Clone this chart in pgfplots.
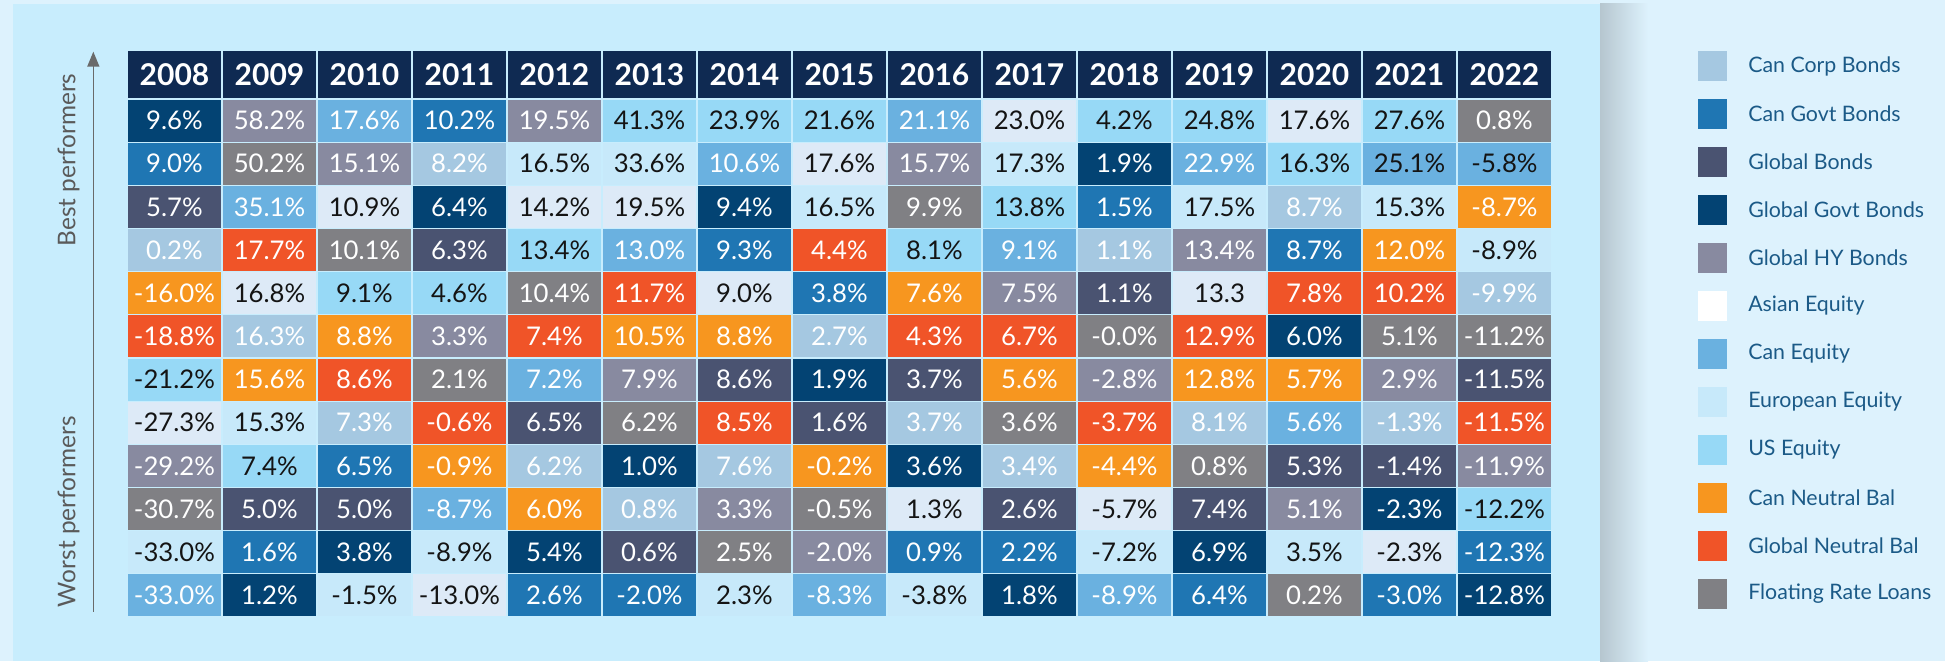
\documentclass[border=0pt]{standalone}
\usepackage{pgfplots}
\pgfplotsset{compat=1.18}
\usepackage{pgfplotstable}
\usetikzlibrary{arrows.meta}
\usepackage{fontspec}
\setmainfont{Lato}
\definecolor{cOut}{HTML}{DDF2FD}
\definecolor{cPanel}{HTML}{C8EDFD}
\definecolor{cShadow}{HTML}{B6C6CF}
\definecolor{cHead}{HTML}{0F2A52}
\definecolor{cCC}{HTML}{A5C8E1}
\definecolor{cCG}{HTML}{1F76B3}
\definecolor{cGB}{HTML}{4A5371}
\definecolor{cGG}{HTML}{034373}
\definecolor{cHY}{HTML}{888AA0}
\definecolor{cAE}{HTML}{DDEAF7}
\definecolor{cCE}{HTML}{6AB1E0}
\definecolor{cEE}{HTML}{C7E9FA}
\definecolor{cUS}{HTML}{97D9F6}
\definecolor{cCN}{HTML}{F7961F}
\definecolor{cGN}{HTML}{F05428}
\definecolor{cFR}{HTML}{808084}
\definecolor{cLeg}{HTML}{1B5A87}
\definecolor{cSide}{HTML}{5A5A5A}
\definecolor{cArrow}{HTML}{6A6A6A}
\definecolor{cInk}{HTML}{141414}
\pgfdeclareplotmark{cell}{\pgfpathrectangle{\pgfqpoint{-35.2pt}{-15.75pt}}{\pgfqpoint{70.4pt}{31.5pt}}\pgfusepathqfill}

% c = year column, r = rank (1 = best), k = asset class, lab = label, w = 1 for white text
\pgfplotstableread{
c r k lab w
0 1 GG 9.6\% 1
0 2 CG 9.0\% 1
0 3 GB 5.7\% 1
0 4 CC 0.2\% 1
0 5 CN -16.0\% 1
0 6 GN -18.8\% 1
0 7 US -21.2\% 0
0 8 AE -27.3\% 0
0 9 HY -29.2\% 1
0 10 FR -30.7\% 1
0 11 EE -33.0\% 0
0 12 CE -33.0\% 1
1 1 HY 58.2\% 1
1 2 FR 50.2\% 1
1 3 CE 35.1\% 1
1 4 GN 17.7\% 1
1 5 AE 16.8\% 0
1 6 CC 16.3\% 1
1 7 CN 15.6\% 1
1 8 EE 15.3\% 0
1 9 US 7.4\% 0
1 10 GB 5.0\% 1
1 11 CG 1.6\% 1
1 12 GG 1.2\% 1
2 1 CE 17.6\% 1
2 2 HY 15.1\% 1
2 3 AE 10.9\% 0
2 4 FR 10.1\% 1
2 5 US 9.1\% 0
2 6 CN 8.8\% 1
2 7 GN 8.6\% 1
2 8 CC 7.3\% 1
2 9 CG 6.5\% 1
2 10 GB 5.0\% 1
2 11 GG 3.8\% 1
2 12 EE -1.5\% 0
3 1 CG 10.2\% 1
3 2 CC 8.2\% 1
3 3 GG 6.4\% 1
3 4 GB 6.3\% 1
3 5 US 4.6\% 0
3 6 HY 3.3\% 1
3 7 FR 2.1\% 1
3 8 GN -0.6\% 1
3 9 CN -0.9\% 1
3 10 CE -8.7\% 1
3 11 EE -8.9\% 0
3 12 AE -13.0\% 0
4 1 HY 19.5\% 1
4 2 EE 16.5\% 0
4 3 AE 14.2\% 0
4 4 US 13.4\% 0
4 5 FR 10.4\% 1
4 6 GN 7.4\% 1
4 7 CE 7.2\% 1
4 8 GB 6.5\% 1
4 9 CC 6.2\% 1
4 10 CN 6.0\% 1
4 11 GG 5.4\% 1
4 12 CG 2.6\% 1
5 1 US 41.3\% 0
5 2 EE 33.6\% 0
5 3 AE 19.5\% 0
5 4 CE 13.0\% 1
5 5 GN 11.7\% 1
5 6 CN 10.5\% 1
5 7 HY 7.9\% 1
5 8 FR 6.2\% 1
5 9 GG 1.0\% 1
5 10 CC 0.8\% 1
5 11 GB 0.6\% 1
5 12 CG -2.0\% 1
6 1 US 23.9\% 0
6 2 CE 10.6\% 1
6 3 GG 9.4\% 1
6 4 CG 9.3\% 1
6 5 AE 9.0\% 0
6 6 CN 8.8\% 1
6 7 GB 8.6\% 1
6 8 GN 8.5\% 1
6 9 CC 7.6\% 1
6 10 HY 3.3\% 1
6 11 FR 2.5\% 1
6 12 EE 2.3\% 0
7 1 US 21.6\% 0
7 2 AE 17.6\% 0
7 3 EE 16.5\% 0
7 4 GN 4.4\% 1
7 5 CG 3.8\% 1
7 6 CC 2.7\% 1
7 7 GG 1.9\% 1
7 8 GB 1.6\% 1
7 9 CN -0.2\% 1
7 10 FR -0.5\% 1
7 11 HY -2.0\% 1
7 12 CE -8.3\% 1
8 1 CE 21.1\% 1
8 2 HY 15.7\% 1
8 3 FR 9.9\% 1
8 4 US 8.1\% 0
8 5 CN 7.6\% 1
8 6 GN 4.3\% 1
8 7 GB 3.7\% 1
8 8 CC 3.7\% 1
8 9 GG 3.6\% 1
8 10 AE 1.3\% 0
8 11 CG 0.9\% 1
8 12 EE -3.8\% 0
9 1 AE 23.0\% 0
9 2 EE 17.3\% 0
9 3 US 13.8\% 0
9 4 CE 9.1\% 1
9 5 HY 7.5\% 1
9 6 GN 6.7\% 1
9 7 CN 5.6\% 1
9 8 FR 3.6\% 1
9 9 CC 3.4\% 1
9 10 GB 2.6\% 1
9 11 CG 2.2\% 1
9 12 GG 1.8\% 1
10 1 US 4.2\% 0
10 2 GG 1.9\% 1
10 3 CG 1.5\% 1
10 4 CC 1.1\% 1
10 5 GB 1.1\% 1
10 6 FR -0.0\% 1
10 7 HY -2.8\% 1
10 8 GN -3.7\% 1
10 9 CN -4.4\% 1
10 10 AE -5.7\% 0
10 11 EE -7.2\% 0
10 12 CE -8.9\% 1
11 1 US 24.8\% 0
11 2 CE 22.9\% 1
11 3 EE 17.5\% 0
11 4 HY 13.4\% 1
11 5 AE 13.3 0
11 6 GN 12.9\% 1
11 7 CN 12.8\% 1
11 8 CC 8.1\% 1
11 9 FR 0.8\% 1
11 10 GB 7.4\% 1
11 11 GG 6.9\% 1
11 12 CG 6.4\% 1
12 1 AE 17.6\% 0
12 2 US 16.3\% 0
12 3 CC 8.7\% 1
12 4 CG 8.7\% 1
12 5 GN 7.8\% 1
12 6 GG 6.0\% 1
12 7 CN 5.7\% 1
12 8 CE 5.6\% 1
12 9 GB 5.3\% 1
12 10 HY 5.1\% 1
12 11 EE 3.5\% 0
12 12 FR 0.2\% 1
13 1 US 27.6\% 0
13 2 CE 25.1\% 0
13 3 EE 15.3\% 0
13 4 CN 12.0\% 1
13 5 GN 10.2\% 1
13 6 FR 5.1\% 1
13 7 HY 2.9\% 1
13 8 CC -1.3\% 1
13 9 GB -1.4\% 1
13 10 GG -2.3\% 1
13 11 AE -2.3\% 0
13 12 CG -3.0\% 1
14 1 FR 0.8\% 1
14 2 CE -5.8\% 0
14 3 CN -8.7\% 1
14 4 EE -8.9\% 0
14 5 CC -9.9\% 1
14 6 FR -11.2\% 1
14 7 GB -11.5\% 1
14 8 GN -11.5\% 1
14 9 HY -11.9\% 1
14 10 US -12.2\% 0
14 11 CG -12.3\% 1
14 12 GG -12.8\% 1
}\cells

\begin{document}
\begin{tikzpicture}
% backgrounds
\fill[cOut] (0,0) rectangle (1458.75pt,495.75pt);
\shade[left color=cShadow, right color=cOut] (1200pt,0) rectangle (1236pt,492.75pt);
\fill[cPanel] (9.75pt,0) rectangle (1200pt,492.75pt);

\begin{axis}[
  at={(95.25pt,33pt)}, anchor=south west,
  scale only axis, width=1068.75pt, height=388.5pt,
  xmin=-0.5, xmax=14.5, ymin=0.5, ymax=12.5,
  clip=false,
  axis line style={draw=none},
  major tick length=0pt,
  ytick=\empty,
  xtick={0,...,14},
  xticklabels={2008,2009,2010,2011,2012,2013,2014,2015,2016,2017,2018,2019,2020,2021,2022},
  xticklabel pos=upper,
  xticklabel style={fill=cHead, text=white, minimum width=70.4pt, minimum height=35.25pt,
    inner sep=0pt, anchor=south, yshift=0.8pt,
    font=\bfseries\fontsize{22.5}{24}\selectfont},
  unbounded coords=discard,
]
% coloured cells
\addplot[scatter, only marks,
  point meta=explicit symbolic,
  scatter/classes={
    CC={mark=cell,cCC}, CG={mark=cell,cCG}, GB={mark=cell,cGB}, GG={mark=cell,cGG},
    HY={mark=cell,cHY}, AE={mark=cell,cAE}, CE={mark=cell,cCE}, EE={mark=cell,cEE},
    US={mark=cell,cUS}, CN={mark=cell,cCN}, GN={mark=cell,cGN}, FR={mark=cell,cFR}},
] table[x=c, y expr=13-\thisrow{r}, meta=k] {\cells};
% white labels
\addplot[only marks, mark=none, point meta=explicit symbolic,
  x filter/.expression={\thisrow{w}>0.5 ? x : nan},
  nodes near coords,
  every node near coord/.append style={anchor=center, inner sep=0pt, text=white,
    font=\fontsize{19.3}{21}\selectfont},
] table[x=c, y expr=13-\thisrow{r}, meta=lab] {\cells};
% dark labels
\addplot[only marks, mark=none, point meta=explicit symbolic,
  x filter/.expression={\thisrow{w}<0.5 ? x : nan},
  nodes near coords,
  every node near coord/.append style={anchor=center, inner sep=0pt, text=cInk,
    font=\fontsize{19.3}{21}\selectfont},
] table[x=c, y expr=13-\thisrow{r}, meta=lab] {\cells};
\end{axis}

% side labels and arrow
\node[rotate=90, text=cSide, font=\fontsize{18.3}{20}\selectfont] at (51.4pt,375.75pt) {Best performers};
\node[rotate=90, text=cSide, font=\fontsize{18.3}{20}\selectfont] at (51.4pt,112pt) {Worst performers};
\draw[cArrow, line width=1.1pt, -{Triangle[length=11.25pt,width=9pt]}] (70pt,37pt) -- (70pt,457pt);

% legend
\foreach \i/\col/\name in {0/cCC/Can Corp Bonds, 1/cCG/Can Govt Bonds, 2/cGB/Global Bonds,
  3/cGG/Global Govt Bonds, 4/cHY/Global HY Bonds, 5/white/Asian Equity, 6/cCE/Can Equity,
  7/cEE/European Equity, 8/cUS/US Equity, 9/cCN/Can Neutral Bal, 10/cGN/Global Neutral Bal,
  11/cFR/Floating Rate Loans}{
  \fill[\col] (1273.5pt,{(595-48*\i)*0.75pt-10.9pt}) rectangle (1295.25pt,{(595-48*\i)*0.75pt+10.9pt});
  \node[anchor=west, text=cLeg, font=\fontsize{16}{18}\selectfont, inner sep=0pt] at (1311pt,{(595-48*\i)*0.75pt}) {\name};
}
\end{tikzpicture}
\end{document}
